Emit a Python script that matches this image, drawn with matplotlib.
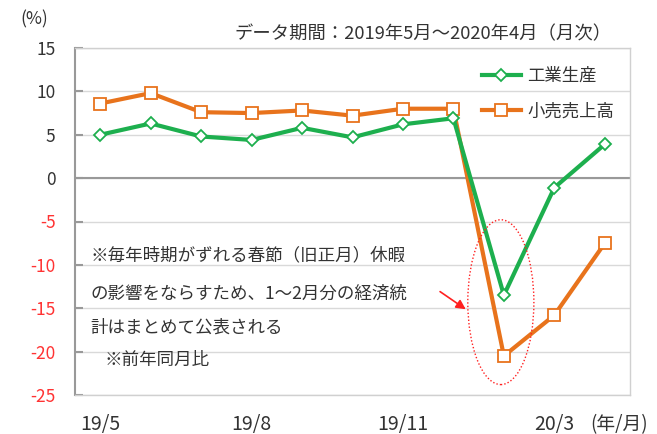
import matplotlib
matplotlib.use("Agg")
import matplotlib.pyplot as plt
from matplotlib.patches import Ellipse

plt.rcParams['font.family'] = ['Noto Sans CJK JP', 'DejaVu Sans']

categories = ['19/5', '19/6', '19/7', '19/8', '19/9', '19/10', '19/11', '19/12', '20/1-2', '20/3', '20/4']
industrial = [5.0, 6.3, 4.8, 4.4, 5.8, 4.7, 6.2, 6.9, -13.5, -1.1, 3.9]
retail = [8.6, 9.8, 7.6, 7.5, 7.8, 7.2, 8.0, 8.0, -20.5, -15.8, -7.5]
xtick_labels = {0: '19/5', 3: '19/8', 6: '19/11', 9: '20/3'}
yticks = [15, 10, 5, 0, -5, -10, -15, -20, -25]

GREEN = '#1DAF4E'
ORANGE = '#E8731C'
TXT = '#333333'

fig = plt.figure(figsize=(6.57, 4.34), dpi=100)
ax = fig.add_axes([75/657, 1-395/434, 555/657, 347/434])

x = list(range(len(categories)))
ax.plot(x, retail, color=ORANGE, lw=3, marker='s', ms=9, mfc='white', mec=ORANGE, mew=1.3,
        label='小売売上高', zorder=3)
ax.plot(x, industrial, color=GREEN, lw=3, marker='D', ms=6.5, mfc='white', mec=GREEN, mew=1.3,
        label='工業生産', zorder=4)

ax.set_xlim(-0.5, len(categories) - 0.5)
ax.set_ylim(-25, 15)
ax.set_yticks(yticks)
ax.set_yticklabels([str(v) for v in yticks], fontsize=12.5)
for lab, v in zip(ax.get_yticklabels(), yticks):
    lab.set_color('#FF3333' if v < 0 else TXT)
ax.set_xticks(list(xtick_labels.keys()))
ax.set_xticklabels(list(xtick_labels.values()), fontsize=14, color=TXT)
ax.tick_params(axis='y', direction='in', length=6, color='#999999', width=1.5, pad=14)
ax.tick_params(axis='x', length=0, pad=14)

ax.grid(axis='y', color='#D9D9D9', lw=1)
ax.set_axisbelow(True)
ax.axhline(0, color='#999999', lw=1.5, zorder=2)
for s in ['top', 'right', 'bottom']:
    ax.spines[s].set_color('#D0D0D0')
    ax.spines[s].set_linewidth(1)
ax.spines['left'].set_color('#999999')
ax.spines['left'].set_linewidth(1.5)

h, l = ax.get_legend_handles_labels()
leg = ax.legend(h[::-1], l[::-1], loc='upper right', bbox_to_anchor=(1.0, 0.99), frameon=False,
                fontsize=12.5, labelspacing=1.0, handlelength=2.2, handletextpad=0.4)
for t in leg.get_texts():
    t.set_color(TXT)

fig.text(20/657, 1-19/434, '(%)', fontsize=12.5, color=TXT, ha='left', va='center')
fig.text(612/657, 1-34/434, 'データ期間：2019年5月～2020年4月（月次）', fontsize=13.2, color=TXT,
         ha='right', va='center')
fig.text(590/657, 1-425/434, '(年/月)', fontsize=13.5, color=TXT, ha='left', va='center')

notes = ['※毎年時期がずれる春節（旧正月）休暇', 'の影響をならすため、1～2月分の経済統', '計はまとめて公表される']
note_y = [-8.9, -13.3, -17.2]
for t, yy in zip(notes, note_y):
    ax.text(-0.2, yy, t, fontsize=12.6, color=TXT, ha='left', va='center')
ax.text(0.08, -20.9, '※前年同月比', fontsize=12.6, color=TXT, ha='left', va='center')

ell = Ellipse((7.94, -14.3), 1.31, 19.0, fill=False, ec='#FF2020', lw=1, ls=(0, (1, 1.5)), zorder=5)
ax.add_patch(ell)
ax.annotate('', xy=(7.29, -15.3), xytext=(6.69, -12.9),
            arrowprops=dict(arrowstyle='-|>', color='#FF2020', lw=1.2, mutation_scale=14))

fig.savefig('out.png', dpi=100)
